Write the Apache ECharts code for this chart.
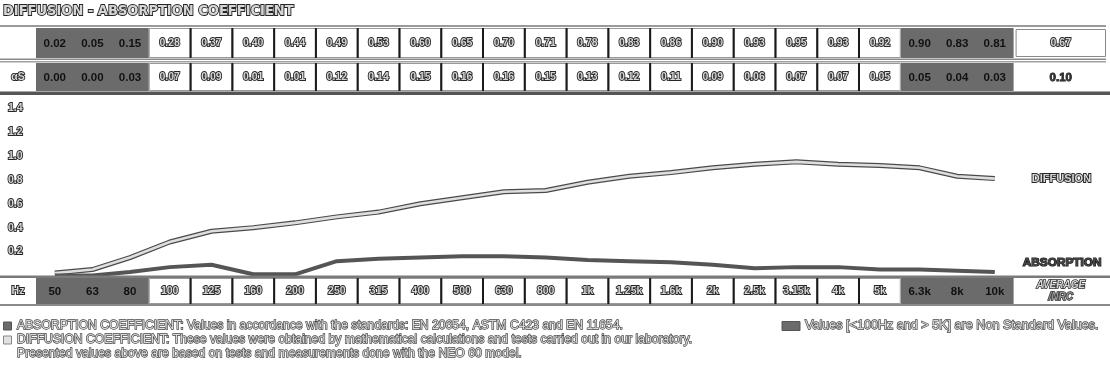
<!DOCTYPE html>
<html><head><meta charset="utf-8">
<script src="https://cdn.jsdelivr.net/npm/echarts@6/dist/echarts.min.js"></script>
<style>html,body{margin:0;padding:0;background:#fff}#c{width:1110px;height:373px}</style>
</head><body><div id="c"></div>
<script>
// ---------- data ----------
const categories = ['50','63','80','100','125','160','200','250','315','400','500','630','800','1k','1.25k','1.6k','2k','2.5k','3.15k','4k','5k','6.3k','8k','10k'];
const diffusion  = [0.02,0.05,0.15,0.28,0.37,0.40,0.44,0.49,0.53,0.60,0.65,0.70,0.71,0.78,0.83,0.86,0.90,0.93,0.95,0.93,0.92,0.90,0.83,0.81];
const absorption = [0.00,0.00,0.03,0.07,0.09,0.01,0.01,0.12,0.14,0.15,0.16,0.16,0.15,0.13,0.12,0.11,0.09,0.06,0.07,0.07,0.05,0.05,0.04,0.03];
const averageNRC = [0.67, 0.10];
const nonStandard = ['50','63','80','6.3k','8k','10k'];
const seriesNames = ['DIFFUSION','ABSORPTION'];
const rowLabels = ['', 'αS'];
const axisRowLabel = 'Hz';
const averageLabel = ['AVERAGE', '/NRC'];
const titleText = 'DIFFUSION - ABSORPTION COEFFICIENT';
const notes = [
  'ABSORPTION COEFFICIENT: Values in accordance with the standards: EN 20654, ASTM C423 and EN 11654.',
  'DIFFUSION COEFFICIENT: These values were obtained by mathematical calculations and tests carried out in our laboratory.',
  'Presented values above are based on tests and measurements done with the NEO 60 model.'
];
const nonStandardNote = 'Values [<100Hz and > 5K] are Non Standard Values.';

// ---------- layout ----------
const DARK_W = 0.9;                       // relative width of a non-standard cell
const widths = categories.map(c => nonStandard.includes(c) ? DARK_W : 1);
const starts = []; let acc = 0; widths.forEach(w => { starts.push(acc); acc += w; });
const total = acc;
const centers = starts.map((s, i) => s + widths[i] / 2);

const GRID = { left: 36, width: 977.6, top: 108, bottom: 97.5 };
const OUT = { fill: '#d6d6d6', stroke: '#262626', lineWidth: 1.8 };
const FONT = '"Liberation Sans", Arial, sans-serif';

const chart = echarts.init(document.getElementById('c'), null, { renderer: 'canvas' });

const toPts = arr => centers.map((x, i) => [x, arr[i]]);

chart.setOption({
  animation: false,
  backgroundColor: '#fff',
  grid: { left: GRID.left, width: GRID.width, top: GRID.top, bottom: GRID.bottom },
  xAxis: { type: 'value', min: 0, max: total, show: false },
  yAxis: {
    type: 'value', min: 0, max: 1.4, interval: 0.2,
    axisLine: { show: false }, axisTick: { show: false }, splitLine: { show: false },
    axisLabel: {
      align: 'left', margin: 28,
      formatter: v => v === 0 ? '' : v.toFixed(1),
      fontFamily: FONT, fontWeight: 'bold', fontSize: 10.5,
      color: OUT.fill, textBorderColor: OUT.stroke, textBorderWidth: OUT.lineWidth
    }
  },
  series: [
    { name: seriesNames[0] + '-edge', type: 'line', data: toPts(diffusion), symbol: 'none', z: 2,
      lineStyle: { color: '#4a4a4a', width: 5 } },
    { name: seriesNames[0], type: 'line', data: toPts(diffusion), symbol: 'none', z: 3,
      lineStyle: { color: '#dedede', width: 2.6 },
      endLabel: { show: true, formatter: seriesNames[0], distance: 37,
        fontFamily: FONT, fontWeight: 'bold', fontSize: 11,
        color: OUT.fill, textBorderColor: OUT.stroke, textBorderWidth: OUT.lineWidth } },
    { name: seriesNames[1], type: 'line', data: toPts(absorption), symbol: 'none', z: 4,
      lineStyle: { color: '#555', width: 4 },
      endLabel: { show: true, formatter: seriesNames[1], distance: 28, offset: [0, -9],
        fontFamily: FONT, fontWeight: 'bold', fontSize: 11.8,
        color: '#444', textBorderColor: '#111', textBorderWidth: 1.2 } }
  ]
});

// ---------- table drawn with graphic elements, positioned from the x axis ----------
const px = v => chart.convertToPixel({ xAxisIndex: 0 }, v);
const G = [];
function rect(x, y, w, h, fill, stroke, lw) {
  G.push({ type: 'rect', shape: { x, y, width: w, height: h }, silent: true,
    style: { fill: fill || 'none', stroke: stroke || null, lineWidth: lw || 0 }, z: 50 });
}
function line(x1, y1, x2, y2, stroke, lw) {
  G.push({ type: 'line', shape: { x1, y1, x2, y2 }, silent: true, style: { stroke, lineWidth: lw }, z: 51 });
}
function text(x, y, s, kind, extra) {
  let st;
  if (kind === 'dark') st = { fill: '#111', font: 'bold 11.5px ' + FONT };
  else if (kind === 'bold') st = { fill: '#333', stroke: '#111', lineWidth: 0.8, font: 'bold 11.5px ' + FONT };
  else st = { fill: OUT.fill, stroke: OUT.stroke, lineWidth: OUT.lineWidth, font: 'bold 10.5px ' + FONT };
  G.push({ type: 'text', x, y, silent: true, z: 60,
    style: Object.assign({ text: s, align: 'center', verticalAlign: 'middle', textAlign: 'center', textVerticalAlign: 'middle' }, st, extra || {}) });
}

const W = 1110;
const rows = [
  { y0: 28, y1: 58, values: diffusion, avg: averageNRC[0], label: rowLabels[0], avgBox: true },
  { y0: 63, y1: 91, values: absorption, avg: averageNRC[1], label: rowLabels[1], avgBox: false }
];
const AX = { y0: 278, y1: 304 };
const avgX0 = px(total) + 2, avgX1 = 1106;

// horizontal rules
rect(0, 25, W - 4, 2, '#9a9a9a');
rect(0, 58.5, W - 4, 1.5, '#8a8a8a');
rect(0, 61, W - 4, 1.5, '#a0a0a0');
rect(0, 91.5, W, 3.5, '#555');
rect(0, 275.5, W, 2.5, '#7a7a7a');
rect(0, 304, W, 2, '#8a8a8a');

function drawCells(y0, y1, labels) {
  let i = 0;
  while (i < categories.length) {
    if (nonStandard.includes(categories[i])) {
      let j = i; while (j + 1 < categories.length && nonStandard.includes(categories[j + 1])) j++;
      rect(px(starts[i]), y0, px(starts[j] + widths[j]) - px(starts[i]), y1 - y0, '#6b6b6b');
      i = j + 1;
    } else i++;
  }
  categories.forEach((c, k) => {
    const x0 = px(starts[k]), x1 = px(starts[k] + widths[k]);
    if (!nonStandard.includes(c)) {
      rect(x0 + 0.5, y0 + 0.5, x1 - x0 - 1, y1 - y0 - 1, '#fff', '#9a9a9a', 1);
      const prevWhite = k > 0 && !nonStandard.includes(categories[k - 1]);
      if (prevWhite) line(x0, y0, x0, y1, '#1a1a1a', 2);
      text((x0 + x1) / 2, (y0 + y1) / 2 + 0.5, labels[k], 'out');
    } else {
      text((x0 + x1) / 2, (y0 + y1) / 2 + 0.5, labels[k], 'dark');
    }
  });
}

rows.forEach(r => {
  drawCells(r.y0, r.y1, r.values.map(v => v.toFixed(2)));
  const cy = (r.y0 + r.y1) / 2 + 0.5;
  if (r.label) text(GRID.left / 2, cy, r.label, 'out');
  if (r.avgBox) {
    rect(avgX0 + 0.5, r.y0 + 1.5, avgX1 - avgX0 - 1, r.y1 - r.y0 - 3, '#fff', '#8a8a8a', 1);
    text((avgX0 + avgX1) / 2, cy, r.avg.toFixed(2), 'out');
  } else {
    text((avgX0 + avgX1) / 2, cy, r.avg.toFixed(2), 'bold');
  }
});

drawCells(AX.y0, AX.y1, categories);
text(GRID.left / 2, (AX.y0 + AX.y1) / 2 + 0.5, axisRowLabel, 'out');
text((avgX0 + avgX1) / 2, AX.y0 + 7, averageLabel[0], 'out', { font: 'italic bold 10px ' + FONT, lineWidth: 1.4 });
text((avgX0 + avgX1) / 2, AX.y0 + 19, averageLabel[1], 'out', { font: 'italic bold 10px ' + FONT, lineWidth: 1.4, fill: '#999' });

// title
text(3, 11, titleText, 'out', { align: 'left', textAlign: 'left', font: 'bold 14.5px "DejaVu Sans Condensed", ' + FONT, lineWidth: 1.8 });

// notes
const NOTE_FONT = '12.2px ' + FONT;
const noteY = [326, 340, 354];
rect(3.5, noteY[0] - 4, 8, 8, '#6b6b6b', '#555', 1);
rect(3.5, noteY[1] - 4, 8, 8, '#e2e2e2', '#888', 1);
notes.forEach((n, k) => text(17, noteY[k], n, 'out', { align: 'left', textAlign: 'left', font: NOTE_FONT, lineWidth: 1.3, fill: '#d8d8d8', stroke: '#444' }));
rect(782, noteY[0] - 4.5, 18, 9, '#6b6b6b', '#555', 1);
text(805, noteY[0], nonStandardNote, 'out', { align: 'left', textAlign: 'left', font: '12.6px ' + FONT, lineWidth: 1.3, fill: '#d8d8d8', stroke: '#444' });

chart.setOption({ graphic: { elements: G } });
</script>
</body></html>
